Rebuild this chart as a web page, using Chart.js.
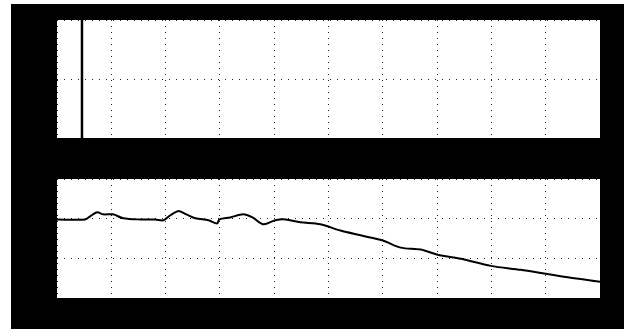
<!DOCTYPE html>
<html>
<head>
<meta charset="utf-8">
<script src="https://cdn.jsdelivr.net/npm/chart.js@4/dist/chart.umd.min.js"></script>
<style>
  html, body { margin: 0; padding: 0; background: #fff; }
  #scope { position: absolute; left: 11px; top: 4px; width: 613px; height: 325px; background: #000; }
  .panel { position: absolute; background: #fff; }
  #p1 { left: 57px; top: 20px; }
  #p2 { left: 57px; top: 179px; }
</style>
</head>
<body>
<div id="scope"></div>
<div class="panel" id="p1"><canvas id="top" width="543" height="118"></canvas></div>
<div class="panel" id="p2"><canvas id="bottom" width="543" height="119"></canvas></div>
<script>
// screen divisions (x) and trace levels (y, in divisions)
var traceX = [0, 0.52, 0.61, 0.74, 0.85, 1.03, 1.22, 1.53, 1.81, 1.96, 2.08, 2.23, 2.38, 2.55,
    2.79, 2.95, 2.99, 3.19, 3.43, 3.60, 3.80, 4.02, 4.21, 4.48, 4.85, 5.22, 5.59, 6.00,
    6.33, 6.70, 7.01, 7.44, 7.99, 8.54, 9.00, 9.46, 10.0];
var traceY = [1.98, 1.98, 2.06, 2.16, 2.11, 2.11, 2.01, 1.98, 1.98, 1.96, 2.08, 2.19, 2.11, 2.01,
    1.96, 1.88, 1.98, 2.03, 2.11, 2.03, 1.86, 1.96, 1.98, 1.91, 1.86, 1.70, 1.58, 1.45,
    1.27, 1.22, 1.09, 0.99, 0.81, 0.71, 0.61, 0.51, 0.41];
var pulseX = [0.46, 0.46];
var pulseY = [0, 2];

function pts(xs, ys) {
    return xs.map(function (x, i) { return {x: x, y: ys[i]}; });
}

function scopeScales(ymax) {
    return {
        x: {
            type: 'linear', min: 0, max: 10,
            ticks: {display: false, stepSize: 1},
            grid: {color: '#222', lineWidth: 1, drawTicks: false},
            border: {display: false, dash: [1, 5]}
        },
        y: {
            type: 'linear', min: 0, max: ymax,
            ticks: {display: false, stepSize: 1},
            grid: {color: '#222', lineWidth: 1, drawTicks: false},
            border: {display: false, dash: [1, 6]}
        }
    };
}

new Chart(document.getElementById('top'), {
    type: 'line',
    data: {
        datasets: [{
            data: pts(pulseX, pulseY),
            borderColor: '#000',
            borderWidth: 2.5,
            pointRadius: 0
        }]
    },
    options: {
        responsive: false,
        animation: false,
        layout: {padding: 0},
        plugins: {legend: {display: false}, tooltip: {enabled: false}},
        scales: scopeScales(2)
    }
});

new Chart(document.getElementById('bottom'), {
    type: 'line',
    data: {
        datasets: [{
            data: pts(traceX, traceY),
            borderColor: '#000',
            borderWidth: 2,
            tension: 0.3,
            pointRadius: 0
        }]
    },
    options: {
        responsive: false,
        animation: false,
        layout: {padding: 0},
        plugins: {legend: {display: false}, tooltip: {enabled: false}},
        scales: scopeScales(3)
    }
});
</script>
</body>
</html>
